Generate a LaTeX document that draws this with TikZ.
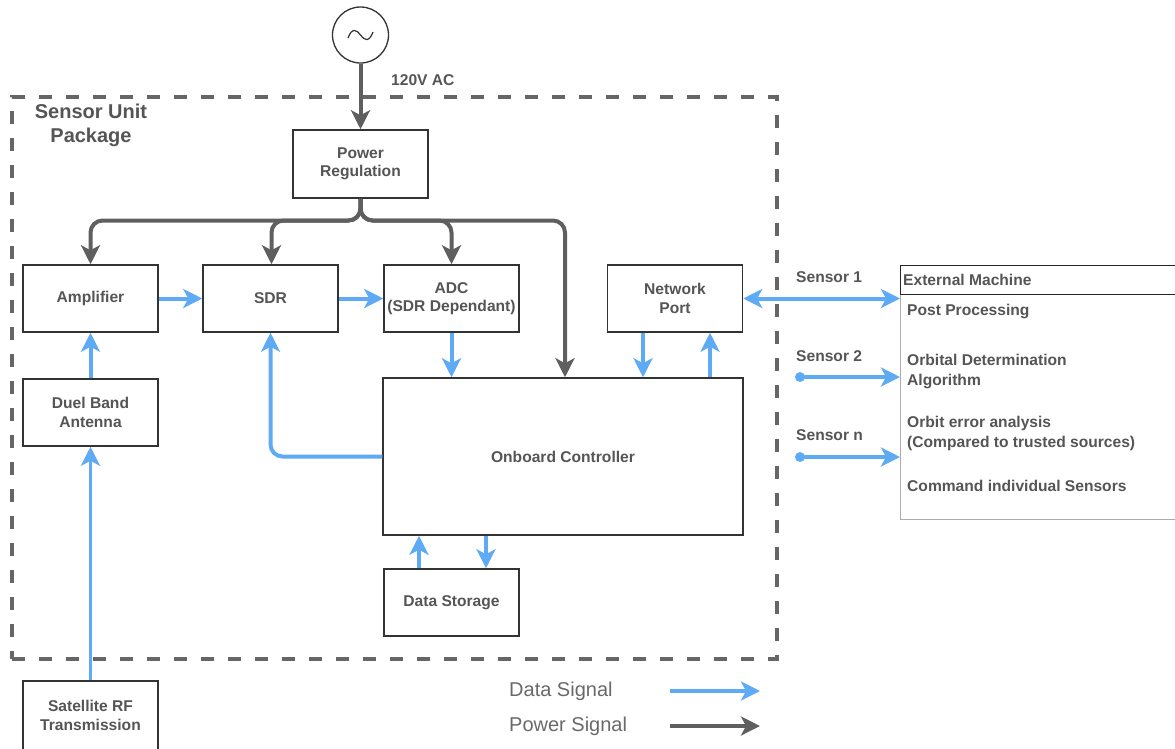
\documentclass[tikz,border=0pt]{standalone}
\usepackage{fontspec}
\setmainfont{Liberation Sans}
\usetikzlibrary{arrows.meta}

\definecolor{datablue}{RGB}{95,170,245}
\definecolor{powergray}{RGB}{95,95,95}
\definecolor{labelgray}{RGB}{85,85,85}
\definecolor{legendgray}{RGB}{105,105,105}
\definecolor{framegray}{RGB}{102,102,102}
\definecolor{boxline}{RGB}{51,51,51}

\begin{document}
\begin{tikzpicture}[x=1pt,y=-1pt,
  labelfont/.style={font=\fontsize{15.6}{18.5}\selectfont\bfseries},
  box/.style={draw=boxline, line width=1.5pt, fill=white, inner sep=0pt,
    minimum width=135pt, minimum height=67pt, align=center,
    text=labelgray, labelfont},
  lbl/.style={text=labelgray, labelfont, inner sep=0pt},
  emtext/.style={text=labelgray, font=\fontsize{15.6}{20}\selectfont\bfseries,
    inner sep=0pt, anchor=west, align=left},
  legendtext/.style={text=legendgray, font=\fontsize{20}{24}\selectfont,
    inner sep=0pt, anchor=west},
  tip/.tip={Stealth[length=19pt,width=19pt,inset=5pt]},
  data/.style={draw=datablue, line width=4pt, rounded corners=12pt, -tip},
  databoth/.style={draw=datablue, line width=4pt, tip-tip},
  power/.style={draw=powergray, line width=4pt, rounded corners=12pt, -tip},
  pkgframe/.style={draw=framegray, line width=4pt,
    dash pattern=on 13pt off 14pt, inner sep=0pt},
]
\useasboundingbox (0,0) rectangle (1175,748);

% sensor unit package outline
\node[pkgframe, minimum width=765pt, minimum height=562pt] (pkg) at (394.5,378) {};
\node[text=labelgray, font=\fontsize{20}{24}\selectfont\bfseries, align=center,
  inner sep=0pt] (pkgname) at (91,125) {Sensor Unit\\Package};

% AC mains source
\node[draw=boxline, line width=1.3pt, circle, minimum size=56pt, inner sep=0pt]
  (src) at (360.5,35) {};
\draw[boxline, line width=1.2pt]
  (348,38) .. controls (352,27) and (357,30) .. (360.5,35)
  .. controls (364,40) and (369,43) .. (373,32);
\node[lbl, anchor=west] (aclabel) at (391,80) {120V AC};

% functional blocks
\node[box, minimum height=68pt] (pr) at (360.5,164) {Power\\Regulation};
\node[box] (amp) at (90.5,298.5) {Amplifier};
\node[box] (sdr) at (270.5,298.5) {SDR};
\node[box] (adc) at (451.5,298.5) {ADC\\(SDR Dependant)};
\node[box] (np) at (675,298.5) {Network\\Port};
\node[box] (ant) at (90.5,412.5) {Duel Band\\Antenna};
\node[box, minimum width=360pt, minimum height=157pt] (obc) at (563,456.5)
  {Onboard Controller};
\node[box] (ds) at (451.5,602.5) {Data Storage};
\node[box, minimum height=69pt] (sat) at (90.5,715.5) {Satellite RF\\Transmission};

% external machine
\node[draw=gray!65, line width=1pt, fill=white, inner sep=0pt, anchor=north west,
  minimum width=280pt, minimum height=254pt] (em) at (900,265) {};
\node[draw=black!85, line width=1.3pt, inner sep=0pt, anchor=north west,
  minimum width=280pt, minimum height=29pt] (emh) at (900,265) {};
\node[emtext] (emtitle) at (903,280) {External Machine};
\node[emtext] (pp) at (907,311) {Post Processing};
\node[emtext] (od) at (907,371.5) {Orbital Determination\\Algorithm};
\node[emtext] (oe) at (907,433) {Orbit error analysis\\(Compared to trusted sources)};
\node[emtext] (cmd) at (907,486) {Command individual Sensors};

% power distribution
\coordinate (bus) at (360.5,220.5);
\draw[power] (src.south) -- (pr.north);
\draw[power] (pr.south) -- (bus) -| (amp.north);
\draw[power] (pr.south) -- (bus) -| ([xshift=1pt]sdr.north);
\draw[power] (pr.south) -- (bus) -| (adc.north);
\draw[power] (pr.south) -- (bus) -| ([xshift=2pt]obc.north);

% data paths
\draw[data, line width=3.5pt] (sat.north) -- (ant.south);
\draw[data] (ant.north) -- (amp.south);
\draw[data] (amp.east) -- (sdr.west);
\draw[data] (sdr.east) -- (adc.west);
\draw[data] (adc.south) -- (adc.south |- obc.north);
\draw[data] (obc.west) -| (sdr.south);
\draw[data] ([xshift=-32pt]np.south) -- ([xshift=-32pt]np.south |- obc.north);
\draw[data] ([xshift=35pt]np.south |- obc.north) -- ([xshift=35pt]np.south);
\draw[data] ([xshift=-32.5pt]ds.north) -- ([xshift=-32.5pt]ds.north |- obc.south);
\draw[data] ([xshift=34.5pt]ds.north |- obc.south) -- ([xshift=34.5pt]ds.north);

% sensor links
\draw[databoth] (np.east) -- (np.east -| em.west);
\coordinate (s2) at (800,377);
\coordinate (sn) at (800,457);
\fill[datablue] (s2) circle (5pt);
\fill[datablue] (sn) circle (5pt);
\draw[data] (s2) -- (s2 -| em.west);
\draw[data] (sn) -- (sn -| em.west);
\node[lbl, anchor=west] (s1label) at (796,277) {Sensor 1};
\node[lbl, anchor=west] (s2label) at (796,356) {Sensor 2};
\node[lbl, anchor=west] (snlabel) at (796,435) {Sensor n};

% legend
\node[legendtext] (ldata) at (509,691) {Data Signal};
\node[legendtext] (lpower) at (509,726) {Power Signal};
\coordinate (ld1) at (670,691);
\coordinate (ld2) at (760,691);
\coordinate (lp1) at (670,726);
\coordinate (lp2) at (760,726);
\draw[data] (ld1) -- (ld2);
\draw[power] (lp1) -- (lp2);
\end{tikzpicture}
\end{document}
